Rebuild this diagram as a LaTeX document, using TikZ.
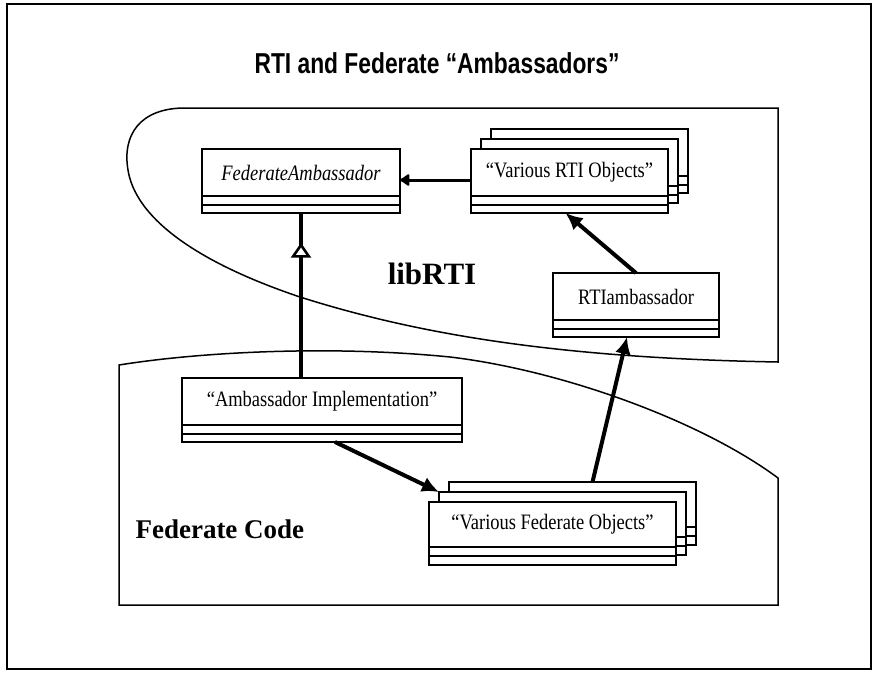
\documentclass[tikz,border=0pt]{standalone}
\usepackage{fontspec}
\setmainfont{Liberation Serif}
\newfontfamily\titlefont{Liberation Sans}
\usetikzlibrary{positioning,arrows.meta,decorations.markings}

\newcommand{\narrowtext}[1]{\scalebox{0.84}[1]{#1}}

\tikzset{
  namebox/.style={draw, line width=2pt, fill=white, minimum height=47pt, inner sep=0pt, outer sep=0pt, font=\fontsize{22}{24}\selectfont},
  slotbox/.style={draw, line width=2pt, fill=white, minimum height=17pt, inner sep=0pt, outer sep=0pt},
  flow/.style={line width=4pt, -{Latex[length=17pt,width=16pt]}},
  region/.style={line width=1.5pt},
}

\begin{document}
\begin{tikzpicture}[x=1pt, y=-1pt]
				\useasboundingbox (0,0) rectangle (878,672);
				\draw[line width=2pt] (7,4) rectangle (871,669);
				
				\node[font=\titlefont\bfseries\fontsize{24}{28}\selectfont] (title) at (437,63) {\scalebox{0.95}[1.2]{RTI and Federate “Ambassadors”}};
				
				% libRTI and Federate Code regions
				\draw[region] (778,108) -- (185,108) .. controls (140,108) and (122,135) .. (128,170) .. controls (135,215) and (190,260) .. (300,297) .. controls (420,335) and (560,358) .. (778,362) -- cycle;
				\draw[region] (119,605) -- (119,365) .. controls (200,352) and (330,345) .. (450,357) .. controls (560,370) and (700,420) .. (778,478) -- (778,605) -- cycle;
				
				\node[font=\bfseries\fontsize{31}{34}\selectfont] (lib) at (432,274) {libRTI};
				\node[font=\bfseries\fontsize{27}{30}\selectfont, anchor=west] (fedcode) at (132,529) {Federate Code};
				
				% classes
				\node[namebox, minimum width=198pt] (fedamb) at (301,172.5) {\narrowtext{\textit{FederateAmbassador}}};
				\node[slotbox, minimum width=198pt, below=0pt of fedamb] (fedamb-s) {};
				\draw[line width=2pt] (fedamb-s.west) -- (fedamb-s.east);
				
				\foreach \k/\d in {3/20,2/10} {
					\node[namebox, minimum width=197pt] (rtiobj\k) at (569.5+\d,172.5-\d) {};
					\node[slotbox, minimum width=197pt, below=0pt of rtiobj\k] (rtiobj\k-s) {};
					\draw[line width=2pt] (rtiobj\k-s.west) -- (rtiobj\k-s.east);
				}
				\node[namebox, minimum width=197pt] (rtiobj) at (569.5,172.5) {\narrowtext{“Various RTI Objects”}};
				\node[slotbox, minimum width=197pt, below=0pt of rtiobj] (rtiobj-s) {};
				\draw[line width=2pt] (rtiobj-s.west) -- (rtiobj-s.east);
				
				\node[namebox, minimum width=166pt] (rtiamb) at (636,296.5) {\narrowtext{RTIambassador}};
				\node[slotbox, minimum width=166pt, below=0pt of rtiamb] (rtiamb-s) {};
				\draw[line width=2pt] (rtiamb-s.west) -- (rtiamb-s.east);
				
				\node[namebox, minimum width=280pt] (impl) at (322,401.5) {\narrowtext{“Ambassador Implementation”}};
				\node[slotbox, minimum width=280pt, below=0pt of impl] (impl-s) {};
				\draw[line width=2pt] (impl-s.west) -- (impl-s.east);
				
				\foreach \k/\d in {3/20,2/10} {
					\node[namebox, minimum width=247pt, minimum height=45pt] (fedobj\k) at (552.5+\d,524.5-\d) {};
					\node[slotbox, minimum width=247pt, minimum height=18pt, below=0pt of fedobj\k] (fedobj\k-s) {};
					\draw[line width=2pt] (fedobj\k-s.west) -- (fedobj\k-s.east);
				}
				\node[namebox, minimum width=247pt, minimum height=45pt] (fedobj) at (552.5,524.5) {\narrowtext{“Various Federate Objects”}};
				\node[slotbox, minimum width=247pt, minimum height=18pt, below=0pt of fedobj] (fedobj-s) {};
				\draw[line width=2pt] (fedobj-s.west) -- (fedobj-s.east);
				
				% connectors
				\draw[line width=3pt, -{Latex[round,length=11pt,width=15pt]}] ([yshift=-7.5pt]rtiobj.west) -- ([yshift=-7.5pt]fedamb.east);
				\draw[line width=3.2pt, postaction={decorate, decoration={markings, mark=at position 0.82 with {\arrow{Triangle[open,fill=white,length=15pt,width=20pt,line width=2.6pt]}}}}] (impl.north -| fedamb-s.south) -- (fedamb-s.south);
				\draw[flow] ([xshift=13pt]impl-s.south) -- (fedobj2.north west);
				\draw[flow] ([xshift=20pt]fedobj3.north) -- ([xshift=-9pt]rtiamb-s.south);
				\draw[flow] (rtiamb.north) -- ([xshift=-4pt]rtiobj-s.south);
\end{tikzpicture}
\end{document}
